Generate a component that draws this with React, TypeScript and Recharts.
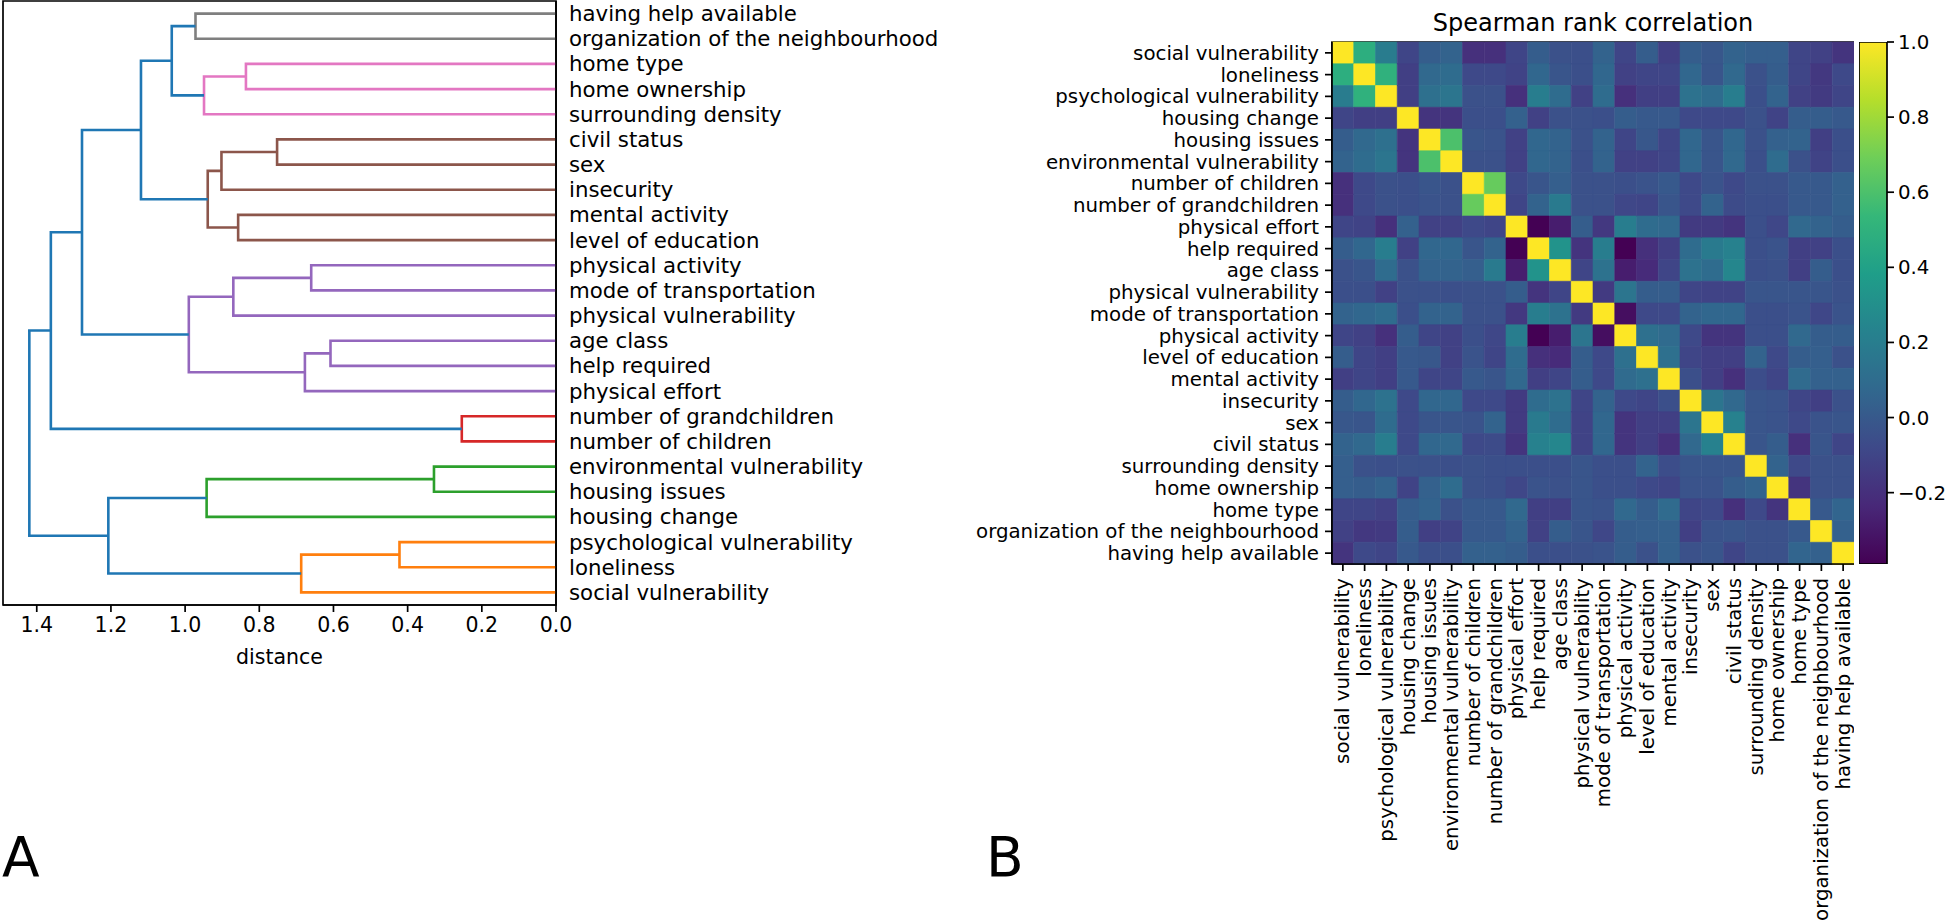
import React from "react";
import { ComposedChart, BarChart, Bar, Cell, Line, XAxis, YAxis, ReferenceArea } from "recharts";

const FONT = "DejaVu Sans";

// variable order: bottom leaf of the dendrogram = first row of the heatmap
const variables = [
    "social vulnerability",
    "loneliness",
    "psychological vulnerability",
    "housing change",
    "housing issues",
    "environmental vulnerability",
    "number of children",
    "number of grandchildren",
    "physical effort",
    "help required",
    "age class",
    "physical vulnerability",
    "mode of transportation",
    "physical activity",
    "level of education",
    "mental activity",
    "insecurity",
    "sex",
    "civil status",
    "surrounding density",
    "home ownership",
    "home type",
    "organization of the neighbourhood",
    "having help available",
];

// linkage (ids >= 24 are earlier merges, in order)
const mergeLeft = [1, 0, 4, 3, 27, 6, 9, 8, 12, 11, 31, 14, 17, 16, 35, 20, 19, 22, 40, 38, 34, 29, 28];
const mergeRight = [2, 24, 5, 26, 25, 7, 10, 30, 13, 32, 33, 15, 18, 36, 37, 21, 39, 23, 41, 42, 43, 44, 45];
const mergeDistance = [
    0.422, 0.687, 0.329, 0.942, 1.207, 0.254, 0.608, 0.677, 0.66, 0.87, 0.99, 0.857, 0.752, 0.902, 0.939,
    0.836, 0.949, 0.972, 1.036, 1.119, 1.278, 1.362, 1.42,
];
const mergeColor = [
    "C1", "C1", "C2", "C2", "C0", "C3", "C4", "C4", "C4", "C4", "C4", "C5", "C5", "C5", "C5",
    "C6", "C6", "C7", "C0", "C0", "C0", "C0", "C0",
];
const distanceTicks = [0, 0.2, 0.4, 0.6, 0.8, 1.0, 1.2, 1.4];

// Spearman correlation, lower triangle (row i holds columns 0..i)
const corrLower = [
    [1],
    [0.48, 1],
    [0.19, 0.5, 1],
    [-0.1, -0.13, -0.13, 1],
    [0.02, 0.08, 0.12, -0.18, 1],
    [0.05, 0.1, 0.15, -0.18, 0.6, 1],
    [-0.2, -0.08, -0.04, -0.05, -0.02, -0.04, 1],
    [-0.2, -0.08, -0.04, -0.05, -0.03, -0.04, 0.67, 1],
    [-0.1, -0.11, -0.2, 0.04, -0.12, -0.12, -0.08, -0.1, 1],
    [0.02, 0.07, 0.2, -0.12, 0.07, 0.07, -0.02, 0.05, -0.39, 1],
    [-0.04, -0.02, 0.1, -0.04, 0.05, 0.05, 0.03, 0.18, -0.28, 0.32, 1],
    [-0.05, -0.05, -0.12, -0.04, -0.04, -0.05, -0.04, -0.04, 0.02, -0.18, -0.1, 1],
    [0.05, 0.07, 0.1, -0.05, 0.05, 0.05, -0.04, -0.04, -0.16, 0.2, 0.13, -0.15, 1],
    [-0.1, -0.12, -0.2, 0.02, -0.1, -0.12, -0.05, -0.09, 0.2, -0.39, -0.28, 0.15, -0.34, 1],
    [0.02, -0.1, -0.13, 0, -0.01, -0.12, -0.03, -0.1, 0.1, -0.2, -0.22, 0.02, -0.08, 0.12, 1],
    [-0.13, -0.1, -0.13, 0, -0.1, -0.1, 0, -0.02, 0.08, -0.13, -0.1, 0.02, -0.08, 0.09, 0.12, 1],
    [0.02, 0.07, 0.13, -0.08, 0.07, 0.07, -0.08, -0.08, -0.15, 0.1, 0.13, -0.1, 0.05, -0.08, -0.1, -0.05, 1],
    [-0.01, -0.02, 0.1, -0.08, -0.02, -0.02, -0.03, 0.05, -0.15, 0.18, 0.1, -0.11, 0.07, -0.18, -0.13, -0.13, 0.15, 1],
    [0.05, 0.08, 0.2, -0.08, 0.07, 0.08, -0.08, -0.07, -0.18, 0.22, 0.25, -0.11, 0.07, -0.18, -0.13, -0.2, 0.08, 0.22, 1],
    [0.03, -0.04, -0.05, -0.04, -0.04, -0.05, -0.04, -0.05, -0.05, -0.05, -0.05, -0.02, -0.05, -0.05, 0.05, -0.06, -0.02, -0.02, -0.02, 1],
    [0.03, 0.02, 0.05, -0.11, 0.04, 0.1, -0.04, -0.05, -0.09, -0.03, -0.04, -0.02, -0.05, -0.05, -0.08, -0.1, -0.03, -0.03, 0.02, 0.05, 1],
    [-0.1, -0.1, -0.12, 0.02, 0.05, -0.04, 0, 0, 0.08, -0.13, -0.13, -0.02, -0.03, 0.08, 0.02, 0.09, -0.1, -0.08, -0.2, -0.08, -0.18, 1],
    [-0.12, -0.16, -0.15, 0.02, -0.13, -0.11, 0, 0, 0.05, -0.12, 0.02, -0.02, -0.09, 0.02, 0.03, 0.04, -0.13, -0.03, -0.02, -0.04, -0.04, 0, 1],
    [-0.18, -0.08, -0.1, 0, -0.05, -0.05, 0.04, 0.04, 0.02, -0.05, -0.05, -0.04, -0.03, 0.02, -0.04, 0.04, -0.04, -0.02, -0.1, -0.04, -0.04, 0.06, 0.04, 1],
];
const colorbarTicks = [-0.2, 0, 0.2, 0.4, 0.6, 0.8, 1.0];

const TAB: Record<string, string> = {
    C0: "#1f77b4",
    C1: "#ff7f0e",
    C2: "#2ca02c",
    C3: "#d62728",
    C4: "#9467bd",
    C5: "#8c564b",
    C6: "#e377c2",
    C7: "#7f7f7f",
};

const VIRIDIS = ["#440154", "#482878", "#3e4989", "#31688e", "#26828e", "#1f9e89", "#35b779", "#6ece58", "#b5de2b", "#fde725"];

const hexToRgb = (h: string) => [1, 3, 5].map((k) => parseInt(h.slice(k, k + 2), 16));

const viridis = (t: number) => {
    const c = Math.min(1, Math.max(0, t)) * (VIRIDIS.length - 1);
    const i = Math.min(VIRIDIS.length - 2, Math.floor(c));
    const f = c - i;
    const a = hexToRgb(VIRIDIS[i]);
    const b = hexToRgb(VIRIDIS[i + 1]);
    const m = a.map((v, k) => Math.round(v + (b[k] - v) * f));
    return `rgb(${m[0]},${m[1]},${m[2]})`;
};

// full symmetric matrix
const corr = variables.map((_, i) => variables.map((__, j) => (i >= j ? corrLower[i][j] : corrLower[j][i])));
const vmin = Math.min(...corr.flat());
const vmax = 1;
const colorOf = (v: number) => viridis((v - vmin) / (vmax - vmin));

// dendrogram links, scipy style (leaf i sits at 5 + 10 i)
const nodeY: number[] = variables.map((_, i) => 5 + 10 * i);
const nodeH: number[] = variables.map(() => 0);
const links = mergeLeft.map((a, k) => {
    const b = mergeRight[k];
    const d = mergeDistance[k];
    const points = [
        { x: nodeH[a], y: nodeY[a] },
        { x: d, y: nodeY[a] },
        { x: d, y: nodeY[b] },
        { x: nodeH[b], y: nodeY[b] },
    ];
    nodeY.push((nodeY[a] + nodeY[b]) / 2);
    nodeH.push(d);
    return { points, color: TAB[mergeColor[k]] };
});
const leafTicks = variables.map((_, i) => 5 + 10 * i);
const dendroMax = Math.max(...mergeDistance) * 1.05;

const heatRows = variables.map((name) => {
    const row: Record<string, string | number> = { name };
    variables.forEach((_, j) => {
        row["c" + j] = 1;
    });
    return row;
});
const cellTicks = variables.map((_, j) => j + 0.5);

const colorbarData = [{ name: "cb", range: [vmin, vmax] }];

const tickStyle = { fontSize: 20.5, fill: "#000", fontFamily: FONT };
const heatTickStyle = { fontSize: 19.8, fill: "#000", fontFamily: FONT };
const axisLineStyle = { stroke: "#000", strokeWidth: 1.7 };

const fmt = (v: number) => (v < 0 ? "\u2212" + Math.abs(v).toFixed(1) : v.toFixed(1));

const RotatedTick = (props: any) => {
    const { x, y, payload } = props;
    return (
        <text
            x={x}
            y={y}
            transform={`rotate(-90 ${x} ${y})`}
            textAnchor="end"
            dominantBaseline="central"
            fontSize={19.8}
            fontFamily={FONT}
            fill="#000"
        >
            {variables[Math.floor(payload.value)]}
        </text>
    );
};

const Dendrogram = () => (
    <ComposedChart width={960} height={680} margin={{ top: 1, right: 0, left: 3, bottom: 0 }}>
        <XAxis
            dataKey="x"
            type="number"
            domain={[0, dendroMax]}
            allowDataOverflow
            reversed
            ticks={distanceTicks}
            interval={0}
            tickFormatter={(v: number) => v.toFixed(1)}
            tick={tickStyle}
            tickSize={7}
            tickMargin={5}
            tickLine={axisLineStyle}
            axisLine={axisLineStyle}
            height={75}
            label={{ value: "distance", position: "insideBottom", offset: 16, fontSize: 20.5, fill: "#000", fontFamily: FONT }}
        />
        <YAxis
            dataKey="y"
            type="number"
            orientation="right"
            domain={[0, 240]}
            allowDataOverflow
            ticks={leafTicks}
            interval={0}
            tickFormatter={(v: number) => variables[Math.round((v - 5) / 10)]}
            tick={{ ...tickStyle, fontSize: 21.3, textAnchor: "start" }}
            tickLine={false}
            tickSize={6}
            tickMargin={7}
            axisLine={axisLineStyle}
            width={404}
        />
        {links.map((l, i) => (
            <Line
                key={i}
                data={l.points}
                dataKey="y"
                type="linear"
                stroke={l.color}
                strokeWidth={2.6}
                dot={false}
                activeDot={false}
                isAnimationActive={false}
            />
        ))}
        <ReferenceArea x1={0} x2={dendroMax} y1={0} y2={240} fill="none" stroke="#000" strokeWidth={1.7} ifOverflow="visible" />
    </ComposedChart>
);

const Heatmap = () => (
    <BarChart
        width={954}
        height={924}
        data={heatRows}
        layout="vertical"
        barCategoryGap={0}
        barGap={0}
        margin={{ top: 42, right: 0, left: 0, bottom: 0 }}
    >
        <XAxis
            type="number"
            domain={[0, 24]}
            allowDataOverflow
            ticks={cellTicks}
            interval={0}
            tick={<RotatedTick />}
            tickSize={7}
            tickMargin={7}
            tickLine={axisLineStyle}
            axisLine={axisLineStyle}
            height={360}
        />
        <YAxis
            type="category"
            dataKey="name"
            interval={0}
            tick={heatTickStyle}
            tickSize={7}
            tickMargin={6}
            tickLine={axisLineStyle}
            axisLine={axisLineStyle}
            width={432}
        />
        {variables.map((_, j) => (
            <Bar key={j} dataKey={"c" + j} stackId="row" isAnimationActive={false}>
                {corr.map((row, i) => (
                    <Cell key={i} fill={colorOf(row[j])} stroke={colorOf(row[j])} strokeWidth={0.6} />
                ))}
            </Bar>
        ))}
        <ReferenceArea x1={0} x2={24} fill="none" stroke="#000" strokeWidth={1.7} ifOverflow="visible" />
    </BarChart>
);

const Colorbar = () => (
    <ComposedChart width={86} height={924} data={colorbarData} barCategoryGap={0} margin={{ top: 42, right: 0, left: 0, bottom: 360 }}>
        <XAxis dataKey="name" type="category" hide />
        <YAxis
            type="number"
            orientation="right"
            domain={[vmin, vmax]}
            allowDataOverflow
            ticks={colorbarTicks}
            interval={0}
            tickFormatter={fmt}
            tick={heatTickStyle}
            tickSize={7}
            tickMargin={4}
            tickLine={axisLineStyle}
            axisLine={false}
            width={58}
        />
        <Bar dataKey="range" fill="url(#viridisGrad)" stroke="#000" strokeWidth={1.7} isAnimationActive={false} />
    </ComposedChart>
);

export default function App() {
    return (
        <div style={{ position: "absolute", left: 0, top: 0, width: 1945, height: 924, background: "#fff", fontFamily: FONT, overflow: "hidden" }}>
            <svg width={0} height={0} style={{ position: "absolute" }}>
                <defs>
                    <linearGradient id="viridisGrad" x1="0" y1="1" x2="0" y2="0">
                        {VIRIDIS.map((c, i) => (
                            <stop key={i} offset={i / (VIRIDIS.length - 1)} stopColor={c} />
                        ))}
                    </linearGradient>
                </defs>
            </svg>
            <div style={{ position: "absolute", left: 0, top: 0 }}>
                <Dendrogram />
            </div>
            <div style={{ position: "absolute", left: 900, top: 0 }}>
                <Heatmap />
            </div>
            <div style={{ position: "absolute", left: 1859, top: 0 }}>
                <Colorbar />
            </div>
            <svg width={1945} height={924} style={{ position: "absolute", left: 0, top: 0, pointerEvents: "none" }}>
                <text x={1593} y={31} textAnchor="middle" fontSize={24} fontFamily={FONT} fill="#000">
                    Spearman rank correlation
                </text>
                <text x={2} y={876} fontSize={55} fontFamily={FONT} fill="#000">
                    A
                </text>
                <text x={986} y={876} fontSize={55} fontFamily={FONT} fill="#000">
                    B
                </text>
            </svg>
        </div>
    );
}
